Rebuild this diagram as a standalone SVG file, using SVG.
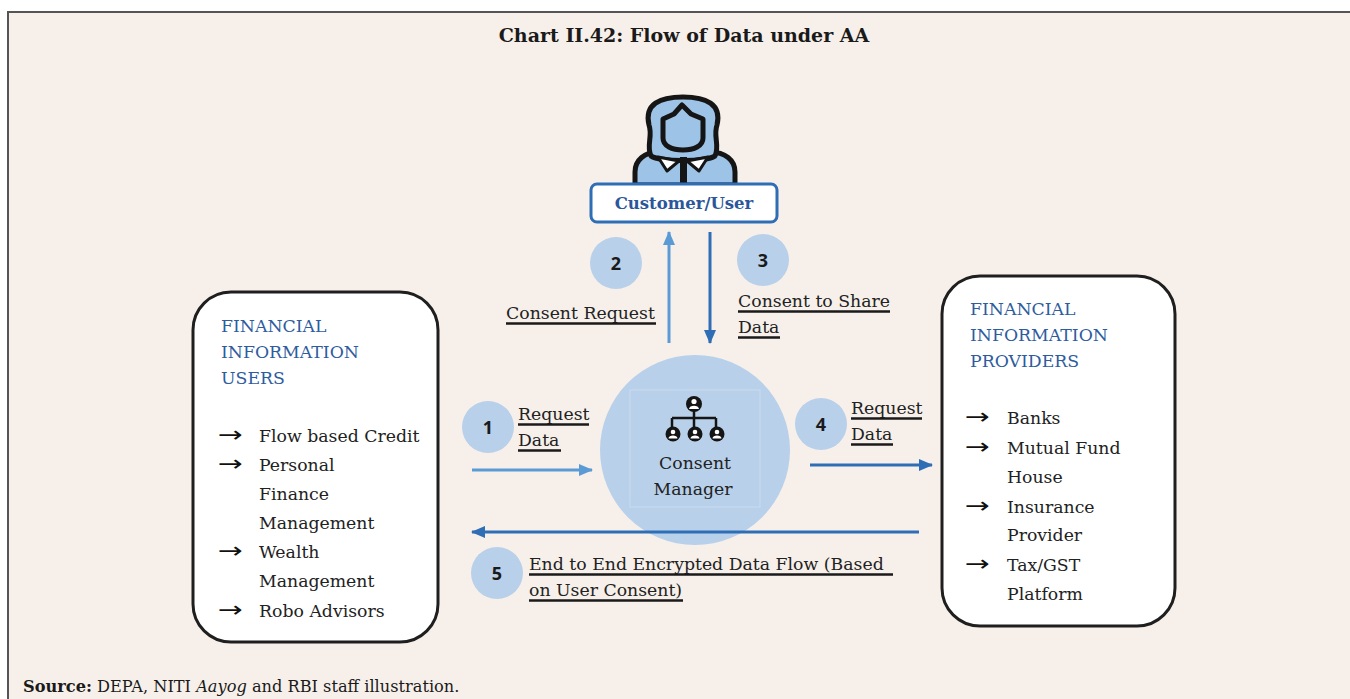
<svg xmlns="http://www.w3.org/2000/svg" width="1350" height="699" viewBox="0 0 1350 699">
  <style>
    .title { font-family: "DejaVu Serif", "Liberation Serif", serif; font-weight: bold; font-size: 19px; fill: #1a1a1a; }
    .txt { font-family: "DejaVu Serif", "Liberation Serif", serif; font-size: 17.3px; fill: #222; }
    .head { font-family: "DejaVu Serif", "Liberation Serif", serif; font-size: 17.3px; fill: #2E5C9E; }
    .num { font-family: "Open Sans", "Liberation Sans", sans-serif; font-weight: bold; font-size: 18px; fill: #1a1a1a; text-anchor: middle; }
    .arr { font-family: "DejaVu Sans", sans-serif; font-size: 22px; fill: #111; }
    .badge { fill: #B8D0EA; }
    .box { fill: #ffffff; stroke: #1f1f1f; stroke-width: 3; }
    .ul { stroke: #1a1a1a; stroke-width: 2.5; }
    .light { stroke: #5B9BD5; stroke-width: 3; fill: none; }
    .dark { stroke: #2F6DB5; stroke-width: 3; fill: none; }
    .ink { stroke: #151515; stroke-width: 5; stroke-linejoin: round; }
    .src { font-family: "DejaVu Serif", "Liberation Serif", serif; font-size: 16.2px; fill: #1a1a1a; }
  </style>
  <defs>
    <marker id="headLight" markerWidth="14" markerHeight="12" refX="13" refY="6" orient="auto" markerUnits="userSpaceOnUse">
      <path d="M0,0 L14,6 L0,12 Z" fill="#5B9BD5"/>
    </marker>
    <marker id="headDark" markerWidth="14" markerHeight="12" refX="13" refY="6" orient="auto" markerUnits="userSpaceOnUse">
      <path d="M0,0 L14,6 L0,12 Z" fill="#2F6DB5"/>
    </marker>
  </defs>

  <!-- page and panel -->
  <rect x="0" y="0" width="1350" height="699" fill="#ffffff"/>
  <rect x="8" y="12" width="1350" height="700" fill="#F7F0EA" stroke="#555" stroke-width="2"/>

  <text class="title" x="684" y="42" text-anchor="middle">Chart II.42: Flow of Data under AA</text>

  <!-- customer / user -->
  <g id="customer">
    <path class="ink" fill="#9DC3E6" d="M635,185 L635,172 C635,160 645,152 658,152 L710,152 C725,152 735,160 735,172 L735,185 Z"/>
    <path class="ink" fill="#9DC3E6" d="M651,156 C646,146 653,136 649,125 C644,104 660,97 683,97 C706,97 722,104 717,125 C713,136 720,146 715,156 C705,162 661,162 651,156 Z"/>
    <path class="ink" fill="#9DC3E6" d="M663,119 L674,114 L682,105 L691,114 L703,119 L703,138 C703,146 694,150 683,150 C672,150 663,146 663,138 Z"/>
    <path d="M658,157 L679,161 L667,171 Z" fill="#ffffff" stroke="#151515" stroke-width="3" stroke-linejoin="round"/>
    <path d="M708,157 L687,161 L699,171 Z" fill="#ffffff" stroke="#151515" stroke-width="3" stroke-linejoin="round"/>
    <rect x="680" y="157" width="7" height="28" fill="#151515"/>
    <rect x="591" y="184" width="186" height="38" rx="6" fill="#ffffff" stroke="#2F6DB5" stroke-width="3"/>
    <text x="684" y="209" text-anchor="middle" font-family="DejaVu Serif, Liberation Serif, serif" font-weight="bold" font-size="16.5" fill="#2B579A">Customer/User</text>
  </g>

  <!-- consent manager -->
  <g id="consent-manager">
    <circle cx="695" cy="450" r="95" fill="#B8D0EA"/>
    <rect x="630" y="390" width="130" height="117" fill="none" stroke="#C9DCEF" stroke-width="1"/>
    <g fill="#151515" stroke="#151515" stroke-width="2.5">
      <line x1="694" y1="410" x2="694" y2="418"/>
      <line x1="672" y1="418" x2="716" y2="418"/>
      <line x1="672" y1="418" x2="672" y2="427"/>
      <line x1="694" y1="418" x2="694" y2="427"/>
      <line x1="716" y1="418" x2="716" y2="427"/>
    </g>
    <g fill="#151515">
      <circle cx="694" cy="404" r="8"/>
      <circle cx="673" cy="434" r="7.5"/>
      <circle cx="695" cy="434" r="7.5"/>
      <circle cx="717" cy="434" r="7.5"/>
    </g>
    <g fill="#ffffff">
      <circle cx="694" cy="401.5" r="2.6"/>
      <path d="M689,409 C689,404.5 699,404.5 699,409 Z"/>
      <circle cx="673" cy="432" r="2.3"/>
      <path d="M668.5,438.5 C668.5,434.5 677.5,434.5 677.5,438.5 Z"/>
      <circle cx="695" cy="432" r="2.3"/>
      <path d="M690.5,438.5 C690.5,434.5 699.5,434.5 699.5,438.5 Z"/>
      <circle cx="717" cy="432" r="2.3"/>
      <path d="M712.5,438.5 C712.5,434.5 721.5,434.5 721.5,438.5 Z"/>
    </g>
    <text class="txt" x="695" y="469" text-anchor="middle">Consent</text>
    <text class="txt" x="693" y="495" text-anchor="middle">Manager</text>
  </g>

  <!-- financial information users -->
  <g id="fi-users">
    <rect class="box" x="193" y="292" width="245" height="350" rx="38"/>
    <text class="head" x="221" y="332">FINANCIAL</text>
    <text class="head" x="221" y="358">INFORMATION</text>
    <text class="head" x="221" y="384">USERS</text>
    <text class="arr" x="218" y="442" textLength="25" lengthAdjust="spacingAndGlyphs">→</text>
    <text class="txt" x="259" y="442">Flow based Credit</text>
    <text class="arr" x="218" y="471" textLength="25" lengthAdjust="spacingAndGlyphs">→</text>
    <text class="txt" x="259" y="471">Personal</text>
    <text class="txt" x="259" y="500">Finance</text>
    <text class="txt" x="259" y="529">Management</text>
    <text class="arr" x="218" y="558" textLength="25" lengthAdjust="spacingAndGlyphs">→</text>
    <text class="txt" x="259" y="558">Wealth</text>
    <text class="txt" x="259" y="587">Management</text>
    <text class="arr" x="218" y="617" textLength="25" lengthAdjust="spacingAndGlyphs">→</text>
    <text class="txt" x="259" y="617">Robo Advisors</text>
  </g>

  <!-- financial information providers -->
  <g id="fi-providers">
    <rect class="box" x="942" y="276" width="233" height="350" rx="38"/>
    <text class="head" x="970" y="315">FINANCIAL</text>
    <text class="head" x="970" y="341">INFORMATION</text>
    <text class="head" x="970" y="367">PROVIDERS</text>
    <text class="arr" x="965" y="424" textLength="25" lengthAdjust="spacingAndGlyphs">→</text>
    <text class="txt" x="1007" y="424">Banks</text>
    <text class="arr" x="965" y="454" textLength="25" lengthAdjust="spacingAndGlyphs">→</text>
    <text class="txt" x="1007" y="454">Mutual Fund</text>
    <text class="txt" x="1007" y="483">House</text>
    <text class="arr" x="965" y="513" textLength="25" lengthAdjust="spacingAndGlyphs">→</text>
    <text class="txt" x="1007" y="513">Insurance</text>
    <text class="txt" x="1007" y="541">Provider</text>
    <text class="arr" x="965" y="571" textLength="25" lengthAdjust="spacingAndGlyphs">→</text>
    <text class="txt" x="1007" y="571">Tax/GST</text>
    <text class="txt" x="1007" y="600">Platform</text>
  </g>

  <!-- connectors -->
  <g id="connectors">
    <line class="light" x1="669" y1="343" x2="669" y2="232" marker-end="url(#headLight)"/>
    <line class="dark" x1="710" y1="232" x2="710" y2="343" marker-end="url(#headDark)"/>
    <line class="light" x1="472" y1="470" x2="592" y2="470" marker-end="url(#headLight)"/>
    <line class="dark" x1="810" y1="465" x2="932" y2="465" marker-end="url(#headDark)"/>
    <line class="dark" x1="919" y1="532" x2="472" y2="532" marker-end="url(#headDark)"/>
  </g>

  <!-- step badges and labels -->
  <g id="step-1">
    <circle class="badge" cx="488" cy="427" r="26"/>
    <text class="num" x="488" y="434">1</text>
    <text class="txt" x="518" y="420">Request</text>
    <line class="ul" x1="518" y1="424.5" x2="589" y2="424.5"/>
    <text class="txt" x="518" y="446">Data</text>
    <line class="ul" x1="518" y1="450.5" x2="561" y2="450.5"/>
  </g>
  <g id="step-2">
    <circle class="badge" cx="616" cy="263" r="26"/>
    <text class="num" x="616" y="270">2</text>
    <text class="txt" x="506" y="319">Consent Request</text>
    <line class="ul" x1="506" y1="323.5" x2="656" y2="323.5"/>
  </g>
  <g id="step-3">
    <circle class="badge" cx="763" cy="260" r="26"/>
    <text class="num" x="763" y="267">3</text>
    <text class="txt" x="738" y="307">Consent to Share</text>
    <line class="ul" x1="738" y1="311.5" x2="890" y2="311.5"/>
    <text class="txt" x="738" y="333">Data</text>
    <line class="ul" x1="738" y1="337.5" x2="780" y2="337.5"/>
  </g>
  <g id="step-4">
    <circle class="badge" cx="821" cy="424" r="26"/>
    <text class="num" x="821" y="431">4</text>
    <text class="txt" x="851" y="414">Request</text>
    <line class="ul" x1="851" y1="418.5" x2="922" y2="418.5"/>
    <text class="txt" x="851" y="440">Data</text>
    <line class="ul" x1="851" y1="444.5" x2="893" y2="444.5"/>
  </g>
  <g id="step-5">
    <circle class="badge" cx="497" cy="573" r="26"/>
    <text class="num" x="497" y="580">5</text>
    <text class="txt" x="529" y="570">End to End Encrypted Data Flow (Based</text>
    <line class="ul" x1="529" y1="574.5" x2="893" y2="574.5"/>
    <text class="txt" x="529" y="596">on User Consent)</text>
    <line class="ul" x1="529" y1="600.5" x2="683" y2="600.5"/>
  </g>

  <text class="src" x="23" y="692"><tspan font-weight="bold">Source:</tspan> DEPA, NITI <tspan font-style="italic">Aayog</tspan> and RBI staff illustration.</text>
</svg>
